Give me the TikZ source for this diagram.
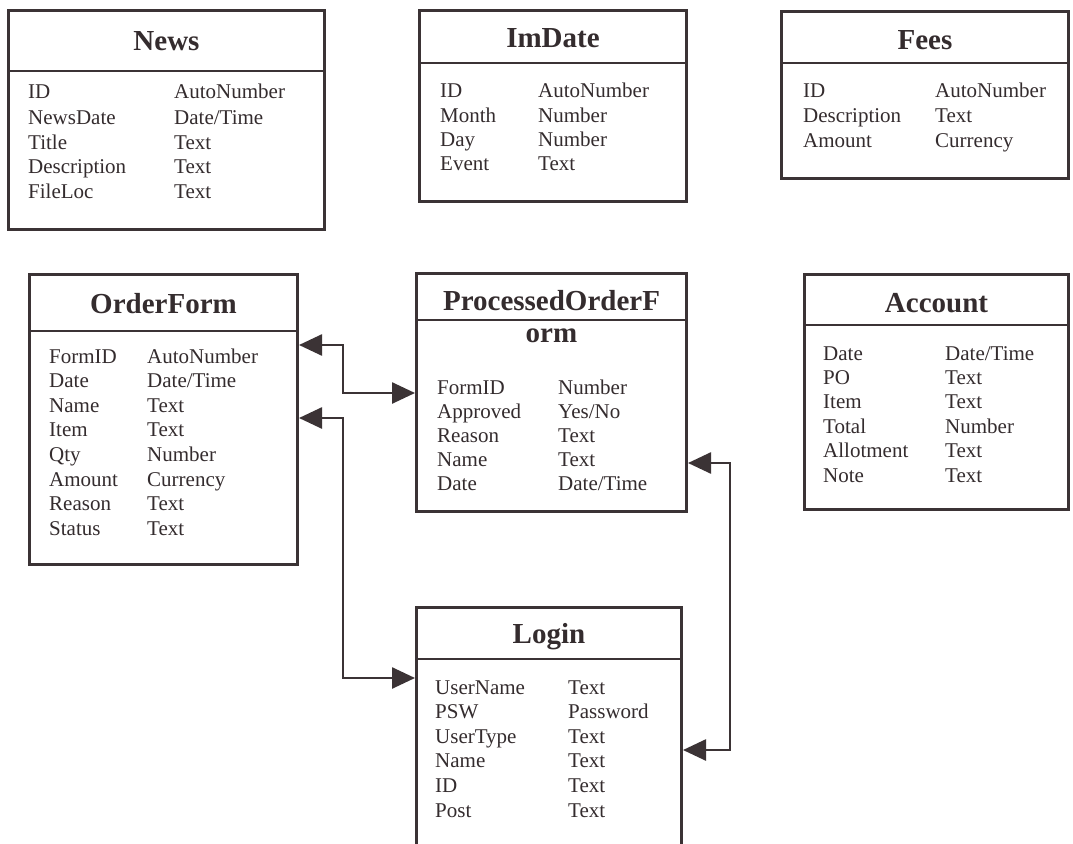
\documentclass[tikz,border=0pt]{standalone}
\usepackage{fontspec}
\setmainfont{Liberation Serif}
\usetikzlibrary{arrows.meta}
\definecolor{ink}{HTML}{342C2E}
\definecolor{edge}{HTML}{3B3335}
\newcommand\fieldrow[6]{%
  \node[fld] (#1a) at (#3,#2) {#4};
  \node[fld] (#1b) at (#5,#2) {#6};}
\newcommand\classbox[6]{% name, x1, y1, x2, y2, divider y
  \node[box, anchor=north west, minimum width={#4-#2}, minimum height={#5-#3}] (#1) at (#2,#3) {};
  \draw[edge line] (#1.west |- 0,#6) -- (#1.east |- 0,#6);}
\tikzset{
  box/.style={draw=edge, line width=3pt, inner sep=0pt, rectangle},
  edge line/.style={draw=edge, line width=2.6pt},
  fld/.style={anchor=base west, inner sep=0pt, text=ink, font=\fontsize{21}{25}\selectfont},
  ttl/.style={anchor=base, inner sep=0pt, text=ink, font=\fontsize{29}{34}\selectfont\bfseries},
  conn/.style={draw=edge, line width=2.6pt, line join=miter,
    {Triangle[length=23pt,width=21pt]}-{Triangle[length=23pt,width=21pt]}},
}
\begin{document}
\begin{tikzpicture}[x=1pt,y=-1pt]
\useasboundingbox (0,0) rectangle (1073,843);
\clip (0,0) rectangle (1073,843);
\fill[white] (0,0) rectangle (1073,843);

% ---- News
\classbox{news}{7}{9}{323}{228}{71}
\node[ttl] (newsT) at (news.north |- 0,51) {News};
\fieldrow{nw1}{99}{28}{ID}{174}{AutoNumber}
\fieldrow{nw2}{124}{28}{NewsDate}{174}{Date/Time}
\fieldrow{nw3}{149}{28}{Title}{174}{Text}
\fieldrow{nw4}{173}{28}{Description}{174}{Text}
\fieldrow{nw5}{198}{28}{FileLoc}{174}{Text}

% ---- ImDate
\classbox{imdate}{418}{9}{685}{200}{63}
\node[ttl] (imdateT) at (imdate.north |- 0,48) {ImDate};
\fieldrow{im1}{97}{440}{ID}{538}{AutoNumber}
\fieldrow{im2}{122}{440}{Month}{538}{Number}
\fieldrow{im3}{146}{440}{Day}{538}{Number}
\fieldrow{im4}{170}{440}{Event}{538}{Text}

% ---- Fees
\classbox{fees}{780}{10}{1067}{177}{63}
\node[ttl] (feesT) at (fees.north |- 0,50) {Fees};
\fieldrow{fe1}{97}{803}{ID}{935}{AutoNumber}
\fieldrow{fe2}{122}{803}{Description}{935}{Text}
\fieldrow{fe3}{147}{803}{Amount}{935}{Currency}

% ---- OrderForm
\classbox{order}{28}{273}{296}{563}{331}
\node[ttl] (orderT) at (order.north |- 0,313) {OrderForm};
\fieldrow{of1}{363}{49}{FormID}{147}{AutoNumber}
\fieldrow{of2}{387.6}{49}{Date}{147}{Date/Time}
\fieldrow{of3}{412.2}{49}{Name}{147}{Text}
\fieldrow{of4}{436.8}{49}{Item}{147}{Text}
\fieldrow{of5}{461.4}{49}{Qty}{147}{Number}
\fieldrow{of6}{486}{49}{Amount}{147}{Currency}
\fieldrow{of7}{510.6}{49}{Reason}{147}{Text}
\fieldrow{of8}{535.2}{49}{Status}{147}{Text}

% ---- ProcessedOrderForm (title wraps across the divider)
\classbox{proc}{415}{272}{685}{510}{320}
\node[ttl] (procT) at (proc.north |- 0,310) {ProcessedOrderF};
\node[ttl] (procT2) at (proc.north |- 0,342) {orm};
\fieldrow{po1}{394}{437}{FormID}{558}{Number}
\fieldrow{po2}{418}{437}{Approved}{558}{Yes/No}
\fieldrow{po3}{442}{437}{Reason}{558}{Text}
\fieldrow{po4}{466}{437}{Name}{558}{Text}
\fieldrow{po5}{490}{437}{Date}{558}{Date/Time}

% ---- Account
\classbox{account}{803}{273}{1067}{508}{325}
\node[ttl] (accountT) at (account.north |- 0,312) {Account};
\fieldrow{ac1}{360}{823}{Date}{945}{Date/Time}
\fieldrow{ac2}{384.4}{823}{PO}{945}{Text}
\fieldrow{ac3}{408.8}{823}{Item}{945}{Text}
\fieldrow{ac4}{433.2}{823}{Total}{945}{Number}
\fieldrow{ac5}{457.6}{823}{Allotment}{945}{Text}
\fieldrow{ac6}{482}{823}{Note}{945}{Text}

% ---- Login (runs past the lower edge)
\classbox{login}{415}{606}{680}{870}{659}
\node[ttl] (loginT) at (login.north |- 0,643) {Login};
\fieldrow{lg1}{694}{435}{UserName}{568}{Text}
\fieldrow{lg2}{718.6}{435}{PSW}{568}{Password}
\fieldrow{lg3}{743.2}{435}{UserType}{568}{Text}
\fieldrow{lg4}{767.8}{435}{Name}{568}{Text}
\fieldrow{lg5}{792.4}{435}{ID}{568}{Text}
\fieldrow{lg6}{817}{435}{Post}{568}{Text}

% ---- bend points of the associations
\coordinate (b1) at (343,345);
\coordinate (b2) at (343,393);
\coordinate (b3) at (343,418);
\coordinate (b4) at (343,678);
\coordinate (b5) at (730,463);
\coordinate (b6) at (730,750);

\draw[conn] (order.east |- b1) -- (b1) -- (b2) -- (proc.west |- b2);
\draw[conn] (order.east |- b3) -- (b3) -- (b4) -- (login.west |- b4);
\draw[conn] (proc.east |- b5) -- (b5) -- (b6) -- (login.east |- b6);
\end{tikzpicture}
\end{document}
